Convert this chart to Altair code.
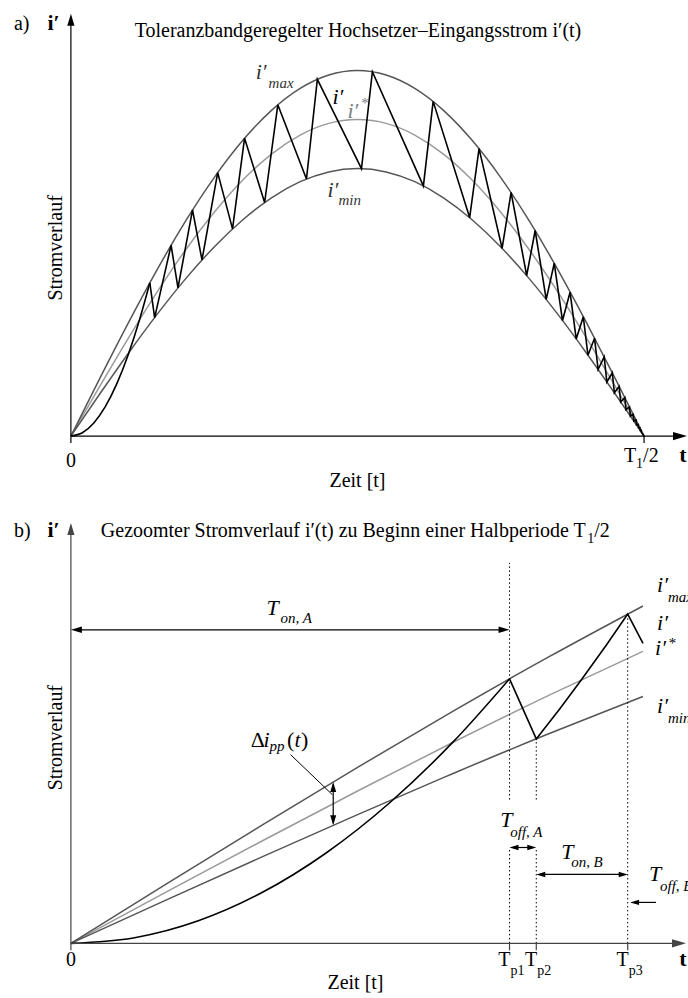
import altair as alt
import pandas as pd

FONT = "Liberation Serif"

# ---------------- current and tolerance band, t in units of T1/2 ----------------
a_t_env = [0.00, 0.05, 0.10, 0.15, 0.20, 0.25, 0.30, 0.35, 0.40, 0.45, 0.50,
           0.55, 0.60, 0.65, 0.70, 0.75, 0.80, 0.85, 0.90, 0.95, 1.00]
a_i_ref = [0.000, 0.156, 0.309, 0.454, 0.588, 0.707, 0.809, 0.891, 0.951, 0.988, 1.000,
           0.988, 0.951, 0.891, 0.809, 0.707, 0.588, 0.454, 0.309, 0.156, 0.000]
a_i_max = [0.000, 0.1806, 0.3569, 0.5244, 0.6789, 0.8167, 0.9344, 1.0291, 1.0985, 1.1408, 1.1550,
           1.1408, 1.0985, 1.0291, 0.9344, 0.8167, 0.6789, 0.5244, 0.3569, 0.1806, 0.000]
a_i_min = [0.000, 0.1322, 0.2611, 0.3836, 0.4967, 0.5975, 0.6836, 0.7529, 0.8037, 0.8346, 0.8450,
           0.8346, 0.8037, 0.7529, 0.6836, 0.5975, 0.4967, 0.3836, 0.2611, 0.1322, 0.000]

# current before it first reaches the upper band limit
a_t_rise = [0.0, 0.02, 0.04, 0.06, 0.08, 0.10, 0.12, 0.1377]
a_i_rise = [0.0, 0.0104, 0.0414, 0.0930, 0.1650, 0.2570, 0.3688, 0.4842]

# switching instants of the current inside the tolerance band
a_t_sw = [0.1377, 0.1461, 0.1748, 0.1868, 0.2122, 0.2287, 0.2561, 0.2820, 0.3030, 0.3380,
          0.3610, 0.4110, 0.4300, 0.5070, 0.5260, 0.6150, 0.6320, 0.6957, 0.7121, 0.7523,
          0.7680, 0.7952, 0.8100, 0.8293, 0.8433, 0.8577, 0.8709, 0.8816, 0.8940, 0.9021,
          0.9136, 0.9198, 0.9304, 0.9351, 0.9446, 0.9482, 0.9565, 0.9592, 0.9664, 0.9685,
          0.9746, 0.9761, 0.9810, 0.9821, 0.9860, 0.9869, 0.9899, 0.9905, 0.9927, 0.9932,
          0.9948, 0.9951, 1.0000]
a_i_sw = [0.4842, 0.3743, 0.6029, 0.4680, 0.7145, 0.5564, 0.8322, 0.6545, 0.9410, 0.7380,
          1.0466, 0.8122, 1.1272, 0.8448, 1.1512, 0.7904, 1.0574, 0.6905, 0.9081, 0.5933,
          0.7698, 0.5073, 0.6495, 0.4321, 0.5460, 0.3650, 0.4546, 0.3068, 0.3771, 0.2554,
          0.3093, 0.2104, 0.2505, 0.1709, 0.1998, 0.1367, 0.1572, 0.1078, 0.1216, 0.0836,
          0.0922, 0.0633, 0.0689, 0.0475, 0.0507, 0.0349, 0.0367, 0.0253, 0.0263, 0.0182,
          0.0188, 0.0130, 0.0000]

# ---------------- zoom on the start of the half period (same units) ----------------
b_t_env = [0.0, 0.03, 0.06, 0.09, 0.12, 0.15, 0.1796]
b_i_ref = [0.0, 0.09411, 0.18738, 0.27899, 0.36812, 0.45399, 0.53479]
b_i_max = [0.0, 0.10870, 0.21642, 0.32223, 0.42518, 0.52436, 0.61768]
b_i_min = [0.0, 0.07952, 0.15834, 0.23575, 0.31106, 0.38362, 0.45190]

# first switching cycles, with extra points on the second rise
b_t_sw = [0.1377, 0.1461, 0.1535, 0.1605, 0.1680, 0.1748, 0.1796]
b_i_sw = [0.4842, 0.3743, 0.4296, 0.4843, 0.5454, 0.6028, 0.5490]

b_ticks = [0.0, 0.1377, 0.1461, 0.1748]
b_tick_names = ["p1", "p2", "p3"]

# ---------------- scales ----------------
A_W, A_H = 618, 424
B_W, B_H = 618, 421
AX = alt.Scale(domain=[0, 1.07666], nice=False, zero=False)
AY = alt.Scale(domain=[0, 1.33754], nice=False, zero=False)
BX = alt.Scale(domain=[0, 0.19373], nice=False, zero=False)
BY = alt.Scale(domain=[0, 0.76965], nice=False, zero=False)

RIGHT = "M0,0L-2,-0.6L-2,0.6Z"
LEFT = "M0,0L2,-0.6L2,0.6Z"
UP = "M0,0L-0.6,2L0.6,2Z"
DOWN = "M0,0L-0.6,-2L0.6,-2Z"


def xy(xs, ys):
    return dict(x=alt.X("t:Q", scale=xs, axis=None),
                y=alt.Y("i:Q", scale=ys, axis=None))


def curve(t, i, xs, ys, color, width=1.5, interp="linear"):
    df = pd.DataFrame({"t": t, "i": i, "k": range(len(t))})
    return alt.Chart(df).mark_line(color=color, strokeWidth=width, interpolate=interp).encode(
        **xy(xs, ys), order="k:Q")


def segs(rows, xs, ys, color="black", width=1.2, dash=None):
    df = pd.DataFrame(rows, columns=["t", "i", "t2", "i2"])
    kw = dict(color=color, strokeWidth=width)
    if dash:
        kw["strokeDash"] = dash
    return alt.Chart(df).mark_rule(**kw).encode(**xy(xs, ys), x2="t2:Q", y2="i2:Q")


def heads(rows, shape, xs, ys, length, color="black"):
    df = pd.DataFrame(rows, columns=["t", "i"])
    return alt.Chart(df).mark_point(shape=shape, filled=True, size=length * length,
                                    color=color, opacity=1, strokeWidth=0).encode(**xy(xs, ys))


def txt(rows, xs, ys, size=20, style="normal", weight="normal", align="left",
        color="black", angle=0, clip=False):
    df = pd.DataFrame(rows, columns=["t", "i", "text"])
    return alt.Chart(df).mark_text(font=FONT, fontSize=size, fontStyle=style,
                                   fontWeight=weight, align=align, baseline="alphabetic",
                                   color=color, angle=angle, clip=clip).encode(
        **xy(xs, ys), text="text:N")


def frame(t0, t1, i0, i1, xs, ys):
    # invisible box that fixes the outer extent of a panel
    df = pd.DataFrame({"t": [t0], "t2": [t1], "i": [i0], "i2": [i1]})
    return alt.Chart(df).mark_rect(opacity=0).encode(**xy(xs, ys), x2="t2:Q", y2="i2:Q")


BAND = "#555555"
REF = "#9a9a9a"

# ---------------- panel a ----------------
pa = [
    frame(-0.12195, 1.07666, -0.1388, 1.37539, AX, AY),
    curve(a_t_env, a_i_ref, AX, AY, REF, 1.5, "natural"),
    curve(a_t_env, a_i_max, AX, AY, BAND, 1.5, "natural"),
    curve(a_t_env, a_i_min, AX, AY, BAND, 1.5, "natural"),
    curve(a_t_rise, a_i_rise, AX, AY, "black", 1.6, "monotone"),
    curve(a_t_sw, a_i_sw, AX, AY, "black", 1.6),
    # axes
    segs([[0, 0, 1.062, 0], [0, 0, 0, 1.31], [0, 0, 0, -0.0221], [1, 0, 1, -0.0221]],
         AX, AY, "black", 1.2),
    heads([[1.0749, 0]], RIGHT, AX, AY, 14),
    heads([[0, 1.3344]], UP, AX, AY, 12),
    txt([[-0.0993, 1.2823, "a)"], [0.9983, -0.0820, "/2"]], AX, AY),
    txt([[0.5009, 1.2603, "Toleranzbandgeregelter Hochsetzer\u2013Eingangsstrom i\u2032(t)"],
         [0.0, -0.0978, "0"],
         [0.5, -0.1609, "Zeit [t]"]], AX, AY, align="center"),
    txt([[0.9861, -0.0820, "T"]], AX, AY, align="right"),
    txt([[0.9861, -0.1009, "1"]], AX, AY, size=14),
    txt([[-0.0409, 1.2823, "i\u2032"]], AX, AY, size=22, weight="bold"),
    txt([[1.0679, -0.0820, "t"]], AX, AY, size=22, weight="bold", align="center"),
    txt([[-0.0148, 0.5946, "Stromverlauf"]], AX, AY, align="center", angle=270),
    txt([[0.3223, 1.1293, "i\u2032"], [0.4477, 0.7539, "i\u2032"]], AX, AY, size=22,
        style="italic", color="#333333"),
    txt([[0.4564, 1.0505, "i\u2032"]], AX, AY, size=22, style="italic"),
    txt([[0.4826, 1.0063, "i\u2032"]], AX, AY, size=22, style="italic", color="#808080"),
    txt([[0.3449, 1.1009, "max"], [0.4669, 0.7287, "min"]], AX, AY, size=15,
        style="italic", color="#333333"),
    txt([[0.5052, 1.0379, "*"]], AX, AY, size=15, style="italic", color="#808080"),
]
panel_a = alt.layer(*pa).properties(width=A_W, height=A_H)

# ---------------- panel b ----------------
AXIS_B = "#444444"
tp1, tp2, tp3 = b_ticks[1], b_ticks[2], b_ticks[3]
y_on_a, y_off_a, y_on_b, y_off_b = 0.57404, 0.17550, 0.12614, 0.07495
d_t = 0.08235  # where the band width is marked
pb = [
    frame(-0.021944, 0.19373, -0.09872, 0.84826, BX, BY),
    curve(b_t_env, b_i_ref, BX, BY, REF, 1.5, "natural"),
    curve(b_t_env, b_i_max, BX, BY, BAND, 1.5, "natural"),
    curve(b_t_env, b_i_min, BX, BY, BAND, 1.5, "natural"),
    curve(a_t_rise, a_i_rise, BX, BY, "black", 1.6, "monotone"),
    curve(b_t_sw, b_i_sw, BX, BY, "black", 1.6),
    # switching instants
    segs([[tp1, 0, tp1, y_off_a], [tp1, 0.26325, tp1, 0.69653],
          [tp2, 0, tp2, y_off_a], [tp2, 0.26325, tp2, b_i_sw[1]],
          [tp3, 0, tp3, b_i_sw[5]]], BX, BY, "black", 1.0, dash=[1.5, 2.5]),
    # axes
    segs([[0, 0, 0.1893, 0], [0, 0, 0, 0.750]] +
         [[v, 0, v, -0.0128] for v in b_ticks], BX, BY, AXIS_B, 1.2),
    heads([[0.19310, 0]], RIGHT, BX, BY, 14, AXIS_B),
    heads([[0, 0.76965]], UP, BX, BY, 12, AXIS_B),
    # time interval arrows and the band width arrow
    segs([[0.002, y_on_a, tp1 - 0.002, y_on_a],
          [tp1 + 0.001, y_off_a, tp2 - 0.001, y_off_a],
          [tp2 + 0.002, y_on_b, tp3 - 0.002, y_on_b],
          [0.1768, y_off_b, 0.1837, y_off_b],
          [d_t, 0.2200, d_t, 0.2915]], BX, BY, "black", 1.2),
    segs([[0.06897, 0.34552, 0.08204, 0.27239]], BX, BY, "black", 1.0),
    heads([[0.0, y_on_a]], LEFT, BX, BY, 11),
    heads([[tp1, y_on_a]], RIGHT, BX, BY, 11),
    heads([[tp1, y_off_a], [tp2, y_on_b]], LEFT, BX, BY, 9),
    heads([[tp2, y_off_a], [tp3, y_on_b]], RIGHT, BX, BY, 9),
    heads([[0.17555, y_off_b]], LEFT, BX, BY, 9),
    heads([[d_t, 0.29549]], UP, BX, BY, 10),
    heads([[d_t, 0.21618]], DOWN, BX, BY, 10),
    # texts
    txt([[-0.017868, 0.74406, "b)"],
         [0.009404, 0.74406, "Gezoomter Stromverlauf i\u2032(t) zu Beginn einer Halbperiode T"],
         [0.16426, 0.74406, "/2"]], BX, BY),
    txt([[0.16207, 0.73309, "1"]], BX, BY, size=14),
    txt([[-0.007367, 0.74406, "i\u2032"]], BX, BY, size=22, weight="bold"),
    txt([[0.19216, -0.04205, "t"]], BX, BY, size=22, weight="bold", align="center"),
    txt([[-0.002665, 0.3766, "Stromverlauf"]], BX, BY, align="center", angle=270),
    txt([[0.0, -0.04205, "0"], [0.08934, -0.0841, "Zeit [t]"]], BX, BY, align="center"),
    txt([[v + 0.0003, -0.04205, "T"] for v in b_ticks[1:]], BX, BY, align="right"),
    txt([[v + 0.0003, -0.0585, n] for v, n in zip(b_ticks[1:], b_tick_names)], BX, BY,
        size=14),
    txt([[0.06144, 0.60146, "T"], [0.13480, 0.21389, "T"], [0.15392, 0.15356, "T"],
         [0.06050, 0.36015, "i"], [0.07022, 0.36015, "t"]], BX, BY, size=22, style="italic"),
    txt([[0.05643, 0.36015, "\u0394"], [0.06787, 0.36015, "("], [0.07226, 0.36015, ")"]],
        BX, BY, size=22),
    txt([[0.06583, 0.58684, "on, A"], [0.13793, 0.19561, "off, A"], [0.15705, 0.13894, "on, B"],
         [0.06238, 0.35283, "pp"]], BX, BY, size=15, style="italic"),
    txt([[0.18150, 0.11335, "T"], [0.18401, 0.64351, "i\u2032"], [0.18401, 0.57404, "i\u2032"],
         [0.18401, 0.42230, "i\u2032"], [0.18339, 0.52834, "i\u2032"]], BX, BY, size=22,
        style="italic", clip=True),
    txt([[0.18495, 0.09506, "off, B"], [0.18746, 0.62523, "max"], [0.18746, 0.40402, "min"],
         [0.18746, 0.54113, "*"]], BX, BY, size=15, style="italic", clip=True),
]
panel_b = alt.layer(*pb).properties(width=B_W, height=B_H)

chart = alt.vconcat(panel_a, panel_b, spacing=87, bounds="flush").properties(
    padding=0
).configure_view(stroke=None)

chart.save("out.html", embed_options={"renderer": "svg", "actions": False})
